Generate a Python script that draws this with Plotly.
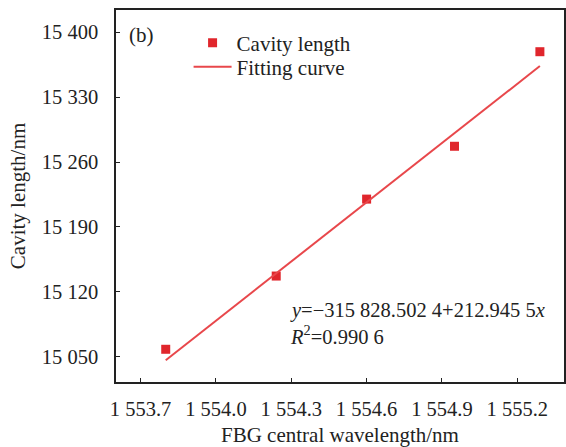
import plotly.graph_objects as go

# Data
wavelength = [1553.80, 1554.24, 1554.60, 1554.95, 1555.29]
cavity_length = [15058, 15137, 15220, 15277, 15379]
intercept = -315828.5024
slope = 212.9455
fit_x = [1553.80, 1555.29]
fit_y = [intercept + slope * v for v in fit_x]

x_tickvals = [1553.7, 1554.0, 1554.3, 1554.6, 1554.9, 1555.2]
x_ticktext = ["1 553.7", "1 554.0", "1 554.3", "1 554.6", "1 554.9", "1 555.2"]
y_tickvals = [15050, 15120, 15190, 15260, 15330, 15400]
y_ticktext = ["15 050", "15 120", "15 190", "15 260", "15 330", "15 400"]

FONT = "Liberation Serif"
RED = "#e0262c"

fig = go.Figure()
fig.add_trace(go.Scatter(
    x=wavelength, y=cavity_length, mode="markers", name="Cavity length",
    marker=dict(symbol="square", size=9, color=RED), legend="legend",
))
fig.add_trace(go.Scatter(
    x=fit_x, y=fit_y, mode="lines", name="Fitting curve",
    line=dict(color="#e8474b", width=2), legend="legend2",
))

leg_common = dict(xanchor="left", yanchor="middle", bgcolor="rgba(0,0,0,0)",
                  font=dict(family=FONT, size=21), itemwidth=38)

eq_x = 1553.7 + (290 - 140.7) / 252.3

fig.update_layout(
    width=566, height=447,
    margin=dict(l=116, r=0, t=10, b=65),
    paper_bgcolor="white", plot_bgcolor="white",
    font=dict(family=FONT, size=21, color="#222"),
    showlegend=True,
    legend=dict(x=0.162, y=(382 - 43) / 372, **leg_common),
    legend2=dict(x=0.162, y=(382 - 67) / 372, **leg_common),
    xaxis=dict(
        range=[1553.602, 1555.386], tickvals=x_tickvals, ticktext=x_ticktext,
        ticks="inside", ticklen=4, tickcolor="#222", showline=True, linecolor="#222",
        linewidth=1.5, mirror=True, showgrid=False, zeroline=False,
        ticklabelstandoff=8, tickfont=dict(size=20.5),
        title=dict(text="FBG central wavelength/nm", standoff=10, font=dict(size=21)),
    ),
    yaxis=dict(
        range=[15022.7, 15424], tickvals=y_tickvals, ticktext=y_ticktext,
        ticks="inside", ticklen=4, tickcolor="#222", showline=True, linecolor="#222",
        linewidth=1.5, mirror=True, showgrid=False, zeroline=False,
        ticklabelstandoff=12, tickfont=dict(size=20.5),
        title=dict(text="Cavity length/nm", standoff=10, font=dict(size=21)),
    ),
    annotations=[
        dict(text="(b)", x=0.025, y=0.933, xref="paper", yref="paper",
             xanchor="left", yanchor="middle", showarrow=False,
             font=dict(family=FONT, size=21)),
        dict(text="<i>y</i>=−315 828.502 4+212.945 5<i>x</i>",
             x=eq_x, y=15050 + (356.7 - 310.5) / 0.927,
             xref="x", yref="y", showarrow=False, borderpad=0,
             xanchor="left", yanchor="middle", align="left",
             font=dict(family=FONT, size=20.5)),
        dict(text="<i>R</i><sup>2</sup>=0.990 6",
             x=eq_x, y=15050 + (356.7 - 335.5) / 0.927,
             xref="x", yref="y", showarrow=False, borderpad=0,
             xanchor="left", yanchor="middle", align="left",
             font=dict(family=FONT, size=20.5)),
    ],
)

fig.write_html("out.html")
